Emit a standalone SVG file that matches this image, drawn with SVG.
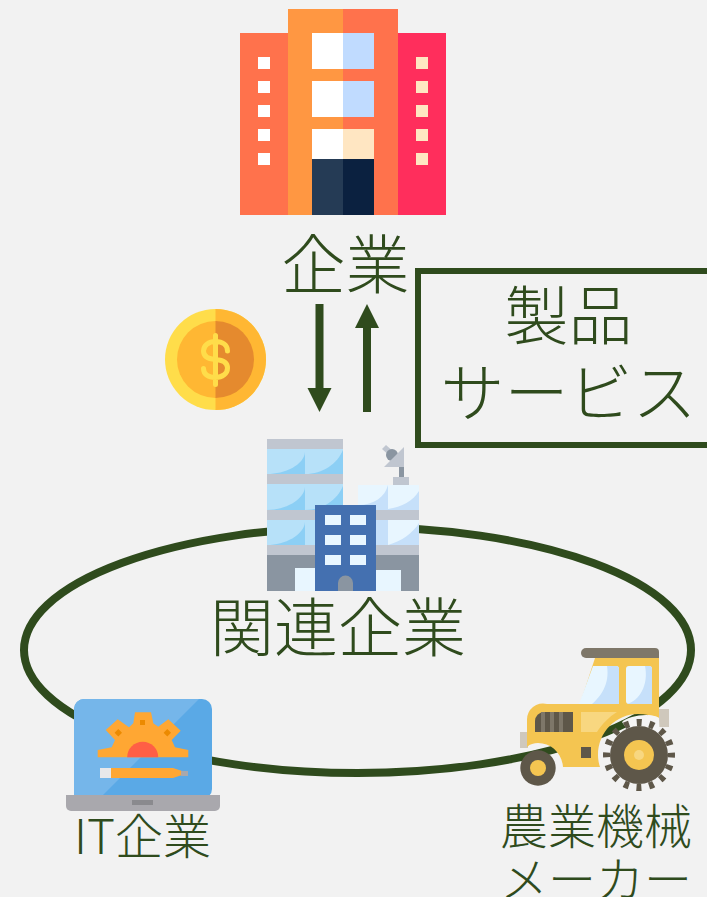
<svg xmlns="http://www.w3.org/2000/svg" width="707" height="897" viewBox="0 0 707 897">
<style>
text{font-family:"Noto Sans CJK JP","Noto Sans",sans-serif;font-weight:300;fill:#2f4b1d;text-anchor:middle}
.line{fill:none;stroke:#2f4b1d}
.fill{fill:#2f4b1d}
</style>
<rect width="707" height="897" fill="#f2f2f2"/>
<g id="connectors">
<ellipse class="line" cx="357.500" cy="650" rx="333.500" ry="123" stroke-width="8"/>
<polygon class="fill" points="315.500,304 323.500,304 323.500,388 331.500,388 319.500,412 307.500,388 315.500,388"/>
<polygon class="fill" points="363,412 371,412 371,328 379,328 367,304 355,328 363,328"/>
</g>
<g id="service-box">
<rect class="line" x="418" y="271" width="300" height="174" stroke-width="6"/>
<text x="568.500" y="339" font-size="64">製品</text>
<text x="568.500" y="416" font-size="64">サービス</text>
</g>
<g id="company">
<rect x="240" y="33" width="48" height="182" fill="#ff724c"/>
<rect x="288" y="9" width="55" height="206" fill="#ff9742"/>
<rect x="343" y="9" width="55" height="206" fill="#ff724c"/>
<rect x="398" y="33" width="48" height="182" fill="#ff2e5c"/>
<path fill="#fff" d="M312 33h31v36h-31zM312 81h31v36h-31zM312 129h31v30h-31z"/>
<path fill="#c0dbff" d="M343 33h31v36h-31zM343 81h31v36h-31z"/>
<rect x="343" y="129" width="31" height="30" fill="#ffe6c2"/>
<rect x="312" y="159" width="31" height="56" fill="#253b55"/>
<rect x="343" y="159" width="31" height="56" fill="#0b2140"/>
<path fill="#fff" d="M258 57h12v12h-12zM258 81h12v12h-12zM258 105h12v12h-12zM258 129h12v12h-12zM258 153h12v12h-12z"/>
<path fill="#ffe6c2" d="M416 57h12v12h-12zM416 81h12v12h-12zM416 105h12v12h-12zM416 129h12v12h-12zM416 153h12v12h-12z"/>
<text x="345.500" y="288" font-size="64">企業</text>
</g>
<g id="coin">
<circle cx="215.500" cy="359.500" r="50.500" fill="#ffdd4a"/>
<path d="M215.500 309a50.500 50.500 0 0 1 0 101z" fill="#ffb733"/>
<circle cx="215.500" cy="359.500" r="38.500" fill="#ffb733"/>
<path d="M215.500 321a38.500 38.500 0 0 1 0 77z" fill="#e58a2e"/>
<path d="M227.500 351c0-6-5-9.500-12-9.500s-12 4-12 9.500 5 8 12 8.500 12 3 12 8.500-5 9.500-12 9.500-12-3-12-9M215.500 335.500v49" fill="none" stroke="#ffdd4a" stroke-width="5" stroke-linecap="round"/>
</g>
<g id="related-company">
<rect x="267" y="439" width="76" height="116" fill="#b7e1f9"/>
<path fill="#8ccff5" d="M305 452c-1 13-20 22-38 22h38zM343 450c-6 14-20 24-38 24h38zM305 487c-1 13-20 23-38 23h38zM343 486c-6 14-20 24-38 24h38zM305 522c-1 13-20 23-38 23h38z"/>
<rect x="358" y="485" width="61" height="70" fill="#c6e0fa"/>
<path fill="#e8f6ff" d="M388 485h31v6c-6 10-17 16-31 18zM388 520h31v3c-6 10-17 18-31 22z"/>
<path fill="#e8f6ff" d="M358 485h30c-3 12-14 20-30 20z"/>
<path fill="#c0c6d0" d="M267 439h76v10h-76zM267 474h76v10h-76zM267 510h76v10h-76zM267 545h76v10h-76zM358 510h61v10h-61zM358 545h61v10h-61z"/>
<rect x="267" y="555" width="152" height="36" fill="#8a95a1"/>
<rect x="295" y="568" width="20" height="23" fill="#e8f6ff"/>
<rect x="376" y="570" width="25" height="21" fill="#e8f6ff"/>
<rect x="315" y="505" width="61" height="86" fill="#4470b0"/>
<path fill="#e8f6ff" d="M325 515h16v10h-16zM350 515h16v10h-16zM325 535h16v10h-16zM350 535h16v10h-16zM325 555h16v10h-16zM350 555h16v10h-16z"/>
<path fill="#8a95a1" d="M338 591v-8a7.500 7.500 0 0 1 15 0v8z"/>
<rect x="393" y="477" width="16" height="8" fill="#c0c6d0"/>
<rect x="399" y="463" width="5" height="14" fill="#8a95a1"/>
<path d="M382 449l4-4 9 8-4 4z" fill="#c0c6d0"/>
<circle cx="392" cy="455" r="6" fill="#8a95a1"/>
<path d="M404 447v20h-20z" fill="#c0c6d0"/>
<text x="338" y="651" font-size="64">関連企業</text>
</g>
<g id="it-company">
<rect x="74" y="699" width="138" height="100" rx="10" fill="#5aa9e6"/>
<path d="M74 795v-86a10 10 0 0 1 10-10h115l-96 96z" fill="#75b6ea"/>
<path d="M97.700 757.300V750l14-2.700 3.300-7.300-9.300-10 12-10.700 11.300 8 4.300-4 1.700-11h16l2.300 11 5 3.400 10-7.400 12.400 11.400-9 9.300 3.300 7.300 13.300 2.700v7.300z" fill="#ffa733"/>
<path d="M127.200 757.300a15.500 15.500 0 0 1 31 0z" fill="#ff5f45"/>
<path fill="#ec8a00" d="M140 720h5v5h-5zM118.300 729l3.700 3.700-3.700 3.700-3.700-3.700zM167.300 729l3.700 3.700-3.700 3.700-3.700-3.700z"/>
<rect x="100" y="768" width="11" height="10" fill="#e8e8ea"/>
<path d="M111 768h62l12 4v2l-12 4h-62z" fill="#ffa733"/>
<rect x="181" y="771" width="7" height="5" fill="#a8a8ac"/>
<path d="M66 795h154v11a5 5 0 0 1-5 5H71a5 5 0 0 1-5-5z" fill="#a9a8ad"/>
<rect x="132" y="800" width="21" height="5" fill="#8a8a8e"/>
<text x="142.500" y="854" font-size="48">IT企業</text>
</g>
<g id="tractor">
<rect x="520" y="732" width="8" height="16" fill="#cfc8bc"/>
<rect x="659" y="709" width="10" height="18" fill="#cfc8bc"/>
<path d="M595 658h64v52h-81z" fill="#f4c551"/>
<path d="M593 666h23a3 3 0 0 1 3 3v35h-40z" fill="#e8f6ff"/>
<path d="M607 666h9a3 3 0 0 1 3 3v35h-27c8-7 18-19 15-38z" fill="#c6e0fa"/>
<rect x="626" y="666" width="26" height="38" rx="3" fill="#e8f6ff"/>
<path d="M645 666h4a3 3 0 0 1 3 3v35h-25c12-3 22-19 18-38z" fill="#c6e0fa"/>
<path d="M586 648h69a4 4 0 0 1 4 4v6h-73a5 5 0 0 1 0-10z" fill="#7e7769"/>
<path d="M547 704h112v14c-8-3-14-4-21-4-22 0-40 18-40 41 0 5 1 9 2 12h-37c-1-14-12-24-25-24-4 0-8 1-11 4v-27a16 16 0 0 1 20-16z" fill="#f4c551"/>
<path d="M622 722c6-6 28-10 37-4l1 22-24 2z" fill="#f5f5f5"/>
<path d="M581 712h36c-8 5-15 12-20 20h-16z" fill="#f8d780"/>
<path d="M544 712h29v20h-38v-11a9 9 0 0 1 9-9z" fill="#5e5749"/>
<path d="M541 712h4v20h-4zM550 712h4v20h-4zM559 712h4v20h-4z" fill="#7e7769"/>
<rect x="581" y="747" width="10" height="11" fill="#5e5749"/>
<circle cx="538" cy="768" r="17.700" fill="#5e5749"/>
<circle cx="538" cy="768" r="8" fill="#f4c551"/>
<circle cx="639" cy="755" r="29" fill="#5e5749"/>
<circle cx="639" cy="755" r="32.500" fill="none" stroke="#5e5749" stroke-width="7" stroke-dasharray="5 7.760" stroke-dashoffset="2.500"/>
<circle cx="639" cy="755" r="15" fill="#f4c551"/>
<circle cx="639" cy="755" r="5" fill="#f8d780"/>
<text x="596" y="844" font-size="48">農業機械</text>
<text x="596" y="897" font-size="48">メーカー</text>
</g>
</svg>
